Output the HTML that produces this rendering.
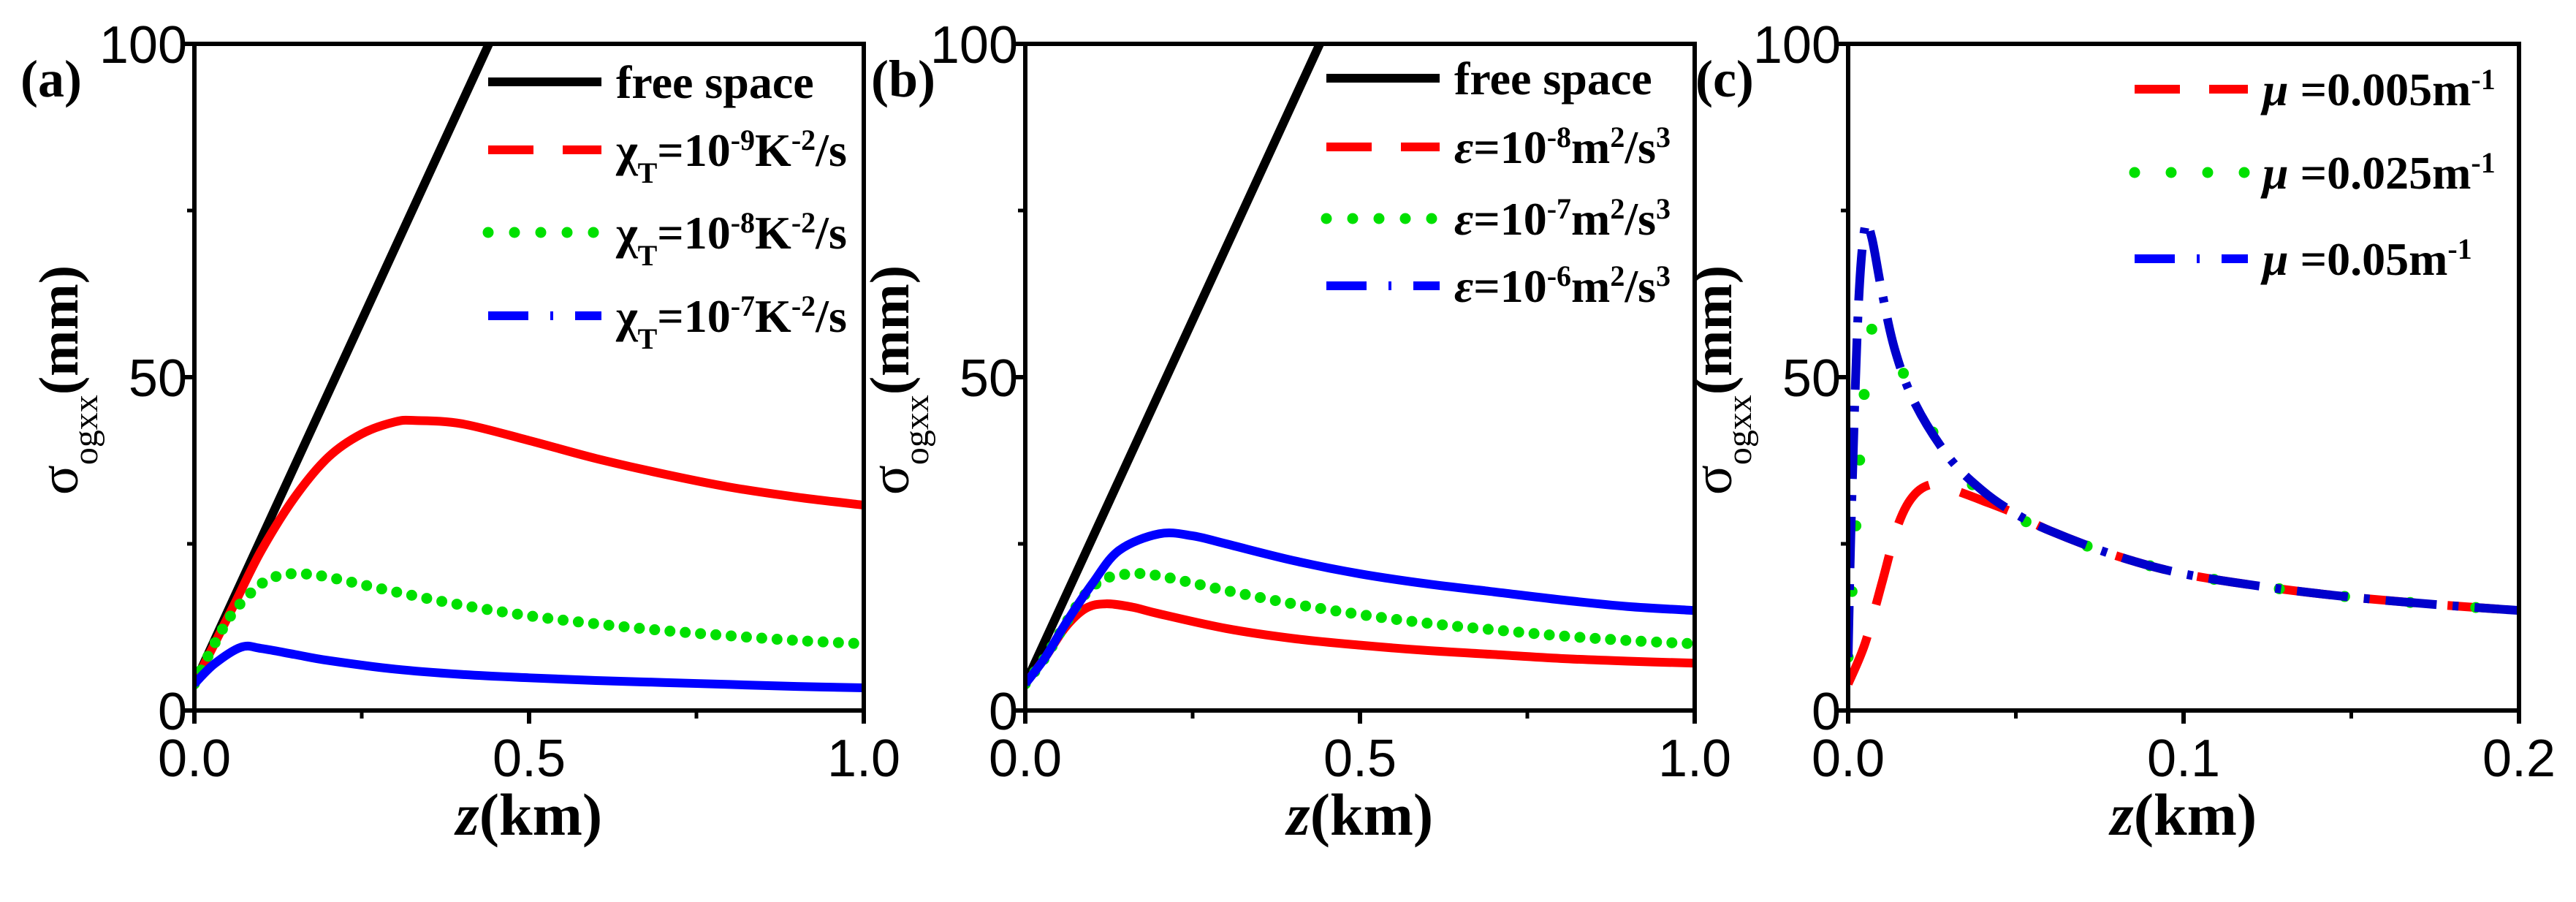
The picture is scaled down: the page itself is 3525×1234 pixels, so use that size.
<!DOCTYPE html>
<html><head><meta charset="utf-8"><style>
html,body{margin:0;padding:0;background:#fff;}
svg{display:block;}
text{fill:#000;}
.tick{font-family:"Liberation Sans",Arial,sans-serif;font-size:72px;}
.ser{font-family:"Liberation Serif",serif;font-weight:bold;}
</style></head><body>
<svg id="chart" width="3525" height="1234" viewBox="0 0 3525 1234" xmlns="http://www.w3.org/2000/svg"></svg>
<script>
// ---- data ----
const freeX = [0, 0.44];
const freeY = [4, 100];
// panel (a)
const aX = [0,0.03,0.06,0.1,0.15,0.2,0.25,0.3,0.33,0.4,0.5,0.6,0.7,0.8,0.9,1.0];
const aRed = [4,10,16,24,32,38,41.5,43.3,43.5,43,40.5,37.8,35.5,33.5,32,30.8];
const gX = [0,0.03,0.06,0.1,0.13,0.16,0.2,0.3,0.4,0.5,0.6,0.7,0.8,0.9,1.0];
const aGreen = [4,10,15,19,20.3,20.5,20,17.8,15.8,14.2,13,12,11.2,10.5,10];
const bX = [0,0.03,0.07,0.1,0.15,0.2,0.3,0.4,0.5,0.6,0.7,0.8,0.9,1.0];
const aBlue = [4,7,9.5,9.3,8.4,7.5,6.2,5.4,4.9,4.5,4.2,3.9,3.6,3.4];
// panel (b)
const b1X = [0,0.03,0.06,0.09,0.12,0.16,0.2,0.3,0.4,0.5,0.6,0.7,0.8,0.9,1.0];
const bRed = [4,8,12.5,15.3,16,15.5,14.5,12.3,10.8,9.8,9,8.4,7.8,7.4,7.1];
const bGreen = [4,8,13,17.5,19.8,20.5,20.2,18,16,14.4,13.1,12.1,11.2,10.5,10];
const b3X = [0,0.03,0.06,0.1,0.14,0.2,0.25,0.3,0.4,0.5,0.6,0.7,0.8,0.9,1.0];
const bBlue = [4,8,13,19,24,26.5,26.2,25,22.5,20.5,19,17.8,16.6,15.6,15];
// panel (c)
const cRX = [0,0.005,0.01,0.015,0.02,0.026,0.032,0.04,0.05,0.06,0.08,0.1,0.125,0.15,0.175,0.2];
const cRed = [4,10,19,28,32.5,34,33,31.5,29.5,27,23.2,20.5,18.5,17,15.9,15];
const cGX = [0,0.002,0.004,0.006,0.008,0.012,0.017,0.025,0.035,0.045,0.06,0.08,0.1,0.125,0.15,0.175,0.2];
const cGreen = [8,25,42,54,58,56,50,42,35,30.5,26.8,23.2,20.5,18.5,17,15.9,15];
const cBX = [0,0.001,0.003,0.005,0.007,0.01,0.014,0.02,0.03,0.04,0.05,0.06,0.08,0.1,0.125,0.15,0.175,0.2];
const cBlue = [8,30,60,72.5,71,63,54,46,38,33,29.5,27,23.2,20.5,18.5,17,15.9,15];
const yTicks = [0,50,100];
const abXTicks = ["0.0","0.5","1.0"];
const cXTicks = ["0.0","0.1","0.2"];

const NS="http://www.w3.org/2000/svg";
const svg=document.getElementById('chart');
function el(tag,attrs,parent){const e=document.createElementNS(NS,tag);for(const k in attrs)e.setAttribute(k,attrs[k]);(parent||svg).appendChild(e);return e;}

function smooth(pts){
  let d=`M${pts[0][0]},${pts[0][1]}`;
  for(let i=0;i<pts.length-1;i++){
    const p0=pts[Math.max(0,i-1)],p1=pts[i],p2=pts[i+1],p3=pts[Math.min(pts.length-1,i+2)];
    const c1=[p1[0]+(p2[0]-p0[0])/6,p1[1]+(p2[1]-p0[1])/6];
    const c2=[p2[0]-(p3[0]-p1[0])/6,p2[1]-(p3[1]-p1[1])/6];
    d+=` C${c1[0]},${c1[1]} ${c2[0]},${c2[1]} ${p2[0]},${p2[1]}`;
  }
  return d;
}

const T=60,B=972;
function panel(cfg){
  const g=el('g',{});
  
  
  const L=cfg.L,R=cfg.R;
  const sx=v=>L+(v-cfg.xmin)/(cfg.xmax-cfg.xmin)*(R-L);
  const sy=v=>B-(v/100)*(B-T);
  const clip=el('clipPath',{id:'clip'+cfg.id},g);
  el('rect',{x:L,y:T,width:R-L,height:B-T},clip);
  const lines=el('g',{'clip-path':`url(#clip${cfg.id})`},g);
  cfg.series.forEach(s=>{
    const pts=s.x.map((x,i)=>[sx(x),sy(s.y[i])]);
    const p=el('path',{d:smooth(pts),fill:'none',stroke:s.color,'stroke-width':s.w||12,'stroke-linecap':s.cap||'butt','stroke-linejoin':'round'},lines);
    if(s.dash)p.setAttribute('stroke-dasharray',s.dash);
    
    
  });
  const fr=el('rect',{x:L,y:T,width:R-L,height:B-T,fill:'none',stroke:'#000','stroke-width':6},g);
  
  
  yTicks.forEach(v=>{
    el('line',{x1:L-18,x2:L,y1:sy(v),y2:sy(v),stroke:'#000','stroke-width':6},g);
    const t=el('text',{x:L-10,y:sy(v)+26,'text-anchor':'end',class:'tick'},g);
    t.textContent=v;
    
    
  });
  [25,75].forEach(v=>el('line',{x1:L-10,x2:L,y1:sy(v),y2:sy(v),stroke:'#000','stroke-width':5},g));
  cfg.xt.forEach((lab,i)=>{
    const v=cfg.xmin+i*(cfg.xmax-cfg.xmin)/2;
    el('line',{x1:sx(v),x2:sx(v),y1:B,y2:B+18,stroke:'#000','stroke-width':6},g);
    const t=el('text',{x:sx(v),y:B+90,'text-anchor':'middle',class:'tick'},g);
    t.textContent=lab;
    
    
  });
  [0.25,0.75].forEach(f=>{const x=L+f*(R-L);el('line',{x1:x,x2:x,y1:B,y2:B+11,stroke:'#000','stroke-width':5},g);});
  const xt=el('text',{x:(L+R)/2,y:1142,'text-anchor':'middle',class:'ser','font-size':82},g);
  xt.innerHTML='<tspan font-style="italic">z</tspan>(km)';
  
  
  const yt=el('text',{transform:`translate(${L-160},520) rotate(-90)`,'text-anchor':'middle',class:'ser','font-size':76},g);
  yt.innerHTML='<tspan font-weight="normal">σ</tspan><tspan font-size="48" font-weight="normal" baseline-shift="sub">ogxx</tspan><tspan>(mm)</tspan>';
  
  
  const pl=el('text',{x:cfg.labX,y:132,class:'ser','font-size':72},g);
  pl.textContent='('+cfg.id+')';
  
  
  cfg.legend.forEach((it,i)=>{
    const y=cfg.legY[i];
    const lg=el('g',{},g);
    
    
    const ln=el('line',{x1:cfg.legX,x2:cfg.legX+155,y1:y,y2:y,stroke:it.color,'stroke-width':it.w||12,'stroke-linecap':it.cap||'butt'},lg);
    if(it.dash)ln.setAttribute('stroke-dasharray',it.dash);
    const t=el('text',{x:cfg.legX+175,y:y+22,class:'ser','font-size':64},lg);
    t.innerHTML=it.html;
  });
}

const sup=(s)=>`<tspan font-size="40" baseline-shift="super">${s}</tspan>`;
const chiL=(e)=>`χ<tspan font-size="40" baseline-shift="sub">T</tspan>=10${sup(e)}K${sup('-2')}/s`;
const epsL=(e)=>`<tspan font-style="italic">ε</tspan>=10${sup(e)}m${sup('2')}/s${sup('3')}`;
const muL=(v)=>`<tspan font-style="italic">μ</tspan> =${v}m${sup('-1')}`;

const DOT='0 21', LDASH='62 40', DDOT='55 30 4 30';
panel({id:'a',L:266,R:1182,xmin:0,xmax:1,xt:abXTicks,labX:28,legX:668,legY:[112,205,318,432],
  series:[{x:freeX,y:freeY,color:'#000',name:'free-space-line'},
    {x:aX,y:aRed,color:'#ff0000',name:'chi-1e-9-line'},
    {x:gX,y:aGreen,color:'#00e000',dash:DOT,cap:'round',w:15,name:'chi-1e-8-line'},
    {x:bX,y:aBlue,color:'#0000ff',name:'chi-1e-7-line'}],
  legend:[{color:'#000',html:'free space'},{color:'#ff0000',dash:LDASH,html:chiL('-9')},
    {color:'#00e000',dash:'0 36',cap:'round',w:15,html:chiL('-8')},{color:'#0000ff',dash:DDOT,html:chiL('-7')}]});
panel({id:'b',L:1403,R:2319,xmin:0,xmax:1,xt:abXTicks,labX:1192,legX:1815,legY:[107,201,299,391],
  series:[{x:freeX,y:freeY,color:'#000',name:'free-space-line'},
    {x:b1X,y:bRed,color:'#ff0000',name:'eps-1e-8-line'},
    {x:b1X,y:bGreen,color:'#00e000',dash:DOT,cap:'round',w:15,name:'eps-1e-7-line'},
    {x:b3X,y:bBlue,color:'#0000ff',name:'eps-1e-6-line'}],
  legend:[{color:'#000',html:'free space'},{color:'#ff0000',dash:LDASH,html:epsL('-8')},
    {color:'#00e000',dash:'0 36',cap:'round',w:15,html:epsL('-7')},{color:'#0000ff',dash:DDOT,html:epsL('-6')}]});
panel({id:'c',L:2529,R:3447,xmin:0,xmax:0.2,xt:cXTicks,labX:2320,legX:2921,legY:[122,236,354],
  series:[{x:cRX,y:cRed,color:'#ff0000',dash:'70 45',name:'mu-0.005-line'},
    {x:cGX,y:cGreen,color:'#00e000',dash:'0 90',cap:'round',w:15,name:'mu-0.025-line'},
    {x:cBX,y:cBlue,color:'#0000cc',dash:'70 22 8 22',name:'mu-0.05-line'}],
  legend:[{color:'#ff0000',dash:LDASH,html:muL('0.005')},{color:'#00e000',dash:'0 50',cap:'round',w:15,html:muL('0.025')},
    {color:'#0000ff',dash:DDOT,html:muL('0.05')}]});
</script>
</body></html>
